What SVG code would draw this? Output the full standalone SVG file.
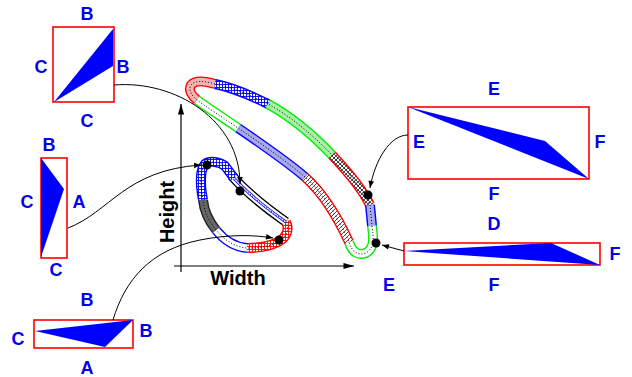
<svg xmlns="http://www.w3.org/2000/svg" width="632" height="377" viewBox="0 0 632 377">
  <style>
    .lbl { font-family: "Liberation Sans", Arial, sans-serif; font-weight: bold; font-size: 18px; fill: #0000ee; text-anchor: middle; }
    .axlbl { font-family: "Liberation Sans", Arial, sans-serif; font-weight: bold; font-size: 20px; fill: #000; text-anchor: middle; }
    .box { fill: #fff; stroke: #ff0000; stroke-width: 1.6; }
    .tri { fill: #0000ff; stroke: none; }
    .conn { fill: none; stroke: #000; stroke-width: 1; }
    .dot { fill: #000; }
    .out { fill: none; stroke-width: 10; stroke-linejoin: round; stroke-linecap: butt; }
    .in { fill: none; stroke-width: 7.2; stroke-linejoin: round; stroke-linecap: butt; }
    .mid { fill: none; stroke: #000; stroke-width: 1; stroke-dasharray: 1 2; }
  </style>
  <defs>
    <marker id="arr" viewBox="0 0 10 10" refX="10" refY="5" markerWidth="9" markerHeight="7" markerUnits="userSpaceOnUse" orient="auto">
      <path d="M0,1 L10,5 L0,9 Z" fill="#000"/>
    </marker>
    <marker id="axarr" viewBox="0 0 12 8" refX="12" refY="4" markerWidth="12" markerHeight="7" markerUnits="userSpaceOnUse" orient="auto">
      <path d="M0,0.5 L12,4 L0,7.5 Z" fill="#000"/>
    </marker>
    <pattern id="bgrid" width="3" height="3" patternUnits="userSpaceOnUse">
      <rect width="3" height="3" fill="#fff"/>
      <path d="M0,0.5 H3 M0.5,0 V3" stroke="#0000ff" stroke-width="0.9"/>
    </pattern>
    <pattern id="rgrid" width="3" height="3" patternUnits="userSpaceOnUse">
      <rect width="3" height="3" fill="#fff"/>
      <path d="M0,0.5 H3 M0.5,0 V3" stroke="#ff0000" stroke-width="0.9"/>
    </pattern>
    <pattern id="kx" width="4" height="4" patternUnits="userSpaceOnUse">
      <rect width="4" height="4" fill="#fff"/>
      <path d="M0,0 L4,4 M4,0 L0,4" stroke="#000" stroke-width="0.7"/>
    </pattern>
    <pattern id="kdiag" width="4" height="4" patternUnits="userSpaceOnUse">
      <rect width="4" height="4" fill="#fff"/>
      <path d="M-1,1 L1,-1 M0,4 L4,0 M3,5 L5,3" stroke="#000" stroke-width="0.7"/>
    </pattern>
  </defs>

  <rect width="632" height="377" fill="#fff"/>

  <!-- axes -->
  <g id="axes">
    <line x1="181" y1="272" x2="181" y2="104" stroke="#000" stroke-width="1.2" marker-end="url(#axarr)"/>
    <line x1="174" y1="266" x2="354" y2="266" stroke="#000" stroke-width="1.2" marker-end="url(#axarr)"/>
    <text class="axlbl" transform="translate(174,212) rotate(-90)">Height</text>
    <text class="axlbl" x="238" y="285">Width</text>
  </g>

  <!-- large loop: tube drawn as outline, fill and dotted centre line per segment -->
  <g id="loop-large">
    <path class="out" stroke="#ff0000" d="M215,84 C205,81 195,80 191,85 C188,90 192,96 197,100"/>
    <path class="in" stroke="#f4b4b4" d="M215,84 C205,81 195,80 191,85 C188,90 192,96 197,100"/>
    <path class="out" stroke="#0000ff" d="M215,84 C235,88 252,96 268,104"/>
    <path class="in" stroke="url(#bgrid)" d="M215,84 C235,88 252,96 268,104"/>
    <path class="out" stroke="#00ee00" d="M268,104 C290,116 312,134 332,155"/>
    <path class="in" stroke="#a8f0a8" d="M268,104 C290,116 312,134 332,155"/>
    <path class="out" stroke="#ff0000" d="M332,155 C348,172 362,188 370,205"/>
    <path class="in" stroke="url(#kx)" d="M332,155 C348,172 362,188 370,205"/>
    <path class="out" stroke="#0000ff" d="M370,205 L372,226"/>
    <path class="in" stroke="#a8a8ec" d="M370,205 L372,226"/>
    <path class="out" stroke="#00ee00" d="M372,226 C374,240 374,248 366,253 C358,256 352,252 349,242"/>
    <path class="in" stroke="#fff" d="M372,226 C374,240 374,248 366,253 C358,256 352,252 349,242"/>
    <path class="out" stroke="#ff0000" d="M349,242 C338,218 325,195 305,177"/>
    <path class="in" stroke="url(#kdiag)" d="M349,242 C338,218 325,195 305,177"/>
    <path class="out" stroke="#0000ff" d="M305,177 C285,160 260,143 238,128"/>
    <path class="in" stroke="#a8a8ec" d="M305,177 C285,160 260,143 238,128"/>
    <path class="out" stroke="#00ee00" d="M238,128 C222,117 205,106 197,100"/>
    <path class="in" stroke="#fff" d="M238,128 C222,117 205,106 197,100"/>
    <path class="mid" d="M215,84 C205,81 195,80 191,85 C188,90 192,96 197,100 C205,106 222,117 238,128 C260,143 285,160 305,177 C325,195 338,218 349,242 C352,252 358,256 366,253 C374,248 374,240 372,226 L370,205 C362,188 348,172 332,155 C312,134 290,116 268,104 C252,96 235,88 215,84"/>
  </g>

  <!-- small loop -->
  <g id="loop-small">
    <path class="out" stroke="#000" d="M232,176 C248,194 266,208 286,222"/>
    <path class="in" stroke="#fff" d="M232,176 C248,194 266,208 286,222"/>
    <path fill="none" stroke="#0000ff" stroke-width="3" d="M232,176 C248,194 266,208 286,222"/>
    <path fill="none" stroke="#fff" stroke-width="1.4" d="M232,176 C248,194 266,208 286,222"/>
    <path class="out" stroke="#0000ff" d="M203,200 C200,185 200,170 205,164 C210,160 220,162 225,166 L234,178"/>
    <path class="in" stroke="url(#bgrid)" d="M203,200 C200,185 200,170 205,164 C210,160 220,162 225,166 L234,178"/>
    <path class="out" stroke="#ff0000" d="M286,222 C290,230 286,238 278,242 C268,247 258,248 247,248"/>
    <path class="in" stroke="url(#rgrid)" d="M286,222 C290,230 286,238 278,242 C268,247 258,248 247,248"/>
    <path class="out" stroke="#0000ff" d="M247,248 C235,247 224,240 216,230"/>
    <path class="in" stroke="#fff" d="M247,248 C235,247 224,240 216,230"/>
    <path class="out" stroke="#222" d="M216,230 C208,220 204,210 203,200"/>
    <path class="in" stroke="#666" d="M216,230 C208,220 204,210 203,200"/>
    <path class="mid" d="M203,200 C200,185 200,170 205,164 C210,160 220,162 225,166 L234,178 C248,194 266,208 286,222 C290,230 286,238 278,242 C268,247 258,248 247,248 C235,247 224,240 216,230 C208,220 204,210 203,200"/>
  </g>

  <!-- box BCBC -->
  <g id="box-bcbc">
    <rect class="box" x="53" y="27" width="61" height="75"/>
    <polygon class="tri" points="54,102 113,29 113,66"/>
    <text class="lbl" x="87" y="20">B</text>
    <text class="lbl" x="41" y="73">C</text>
    <text class="lbl" x="123" y="73">B</text>
    <text class="lbl" x="87" y="127">C</text>
  </g>

  <!-- box BCAC -->
  <g id="box-bcac">
    <rect class="box" x="41" y="158" width="26" height="100"/>
    <polygon class="tri" points="41,158 64,189 41,257"/>
    <text class="lbl" x="49" y="151">B</text>
    <text class="lbl" x="27" y="208">C</text>
    <text class="lbl" x="79" y="208">A</text>
    <text class="lbl" x="56" y="276">C</text>
  </g>

  <!-- box BCBA -->
  <g id="box-bcba">
    <rect class="box" x="34" y="320" width="99" height="28"/>
    <polygon class="tri" points="35,331 133,320 105,347"/>
    <text class="lbl" x="87" y="306">B</text>
    <text class="lbl" x="18" y="345">C</text>
    <text class="lbl" x="146" y="337">B</text>
    <text class="lbl" x="87" y="374">A</text>
  </g>

  <!-- box EEFF -->
  <g id="box-eeff">
    <rect class="box" x="408" y="107" width="181" height="72"/>
    <polygon class="tri" points="408,107 545,141 589,179"/>
    <text class="lbl" x="494" y="95">E</text>
    <text class="lbl" x="419" y="148">E</text>
    <text class="lbl" x="600" y="148">F</text>
    <text class="lbl" x="494" y="200">F</text>
  </g>

  <!-- box DFEF -->
  <g id="box-dfef">
    <rect class="box" x="404" y="243" width="196" height="22"/>
    <polygon class="tri" points="404,251 551,243 600,265"/>
    <text class="lbl" x="494" y="230">D</text>
    <text class="lbl" x="615" y="260">F</text>
    <text class="lbl" x="389" y="291">E</text>
    <text class="lbl" x="494" y="291">F</text>
  </g>

  <!-- connectors -->
  <g id="connectors">
    <path class="conn" d="M114,85 C175,80 240,120 240,184" marker-end="url(#arr)"/>
    <path class="conn" d="M68,228 C110,212 125,170 201,165" marker-end="url(#arr)"/>
    <path class="conn" d="M113,320 C125,280 150,250 200,240 C230,234 255,235 273,238" marker-end="url(#arr)"/>
    <path class="conn" d="M408,135 C390,135 375,160 370,188" marker-end="url(#arr)"/>
    <path class="conn" d="M404,251 L382,245" marker-end="url(#arr)"/>
  </g>

  <!-- contact points -->
  <g id="points">
    <circle class="dot" cx="207" cy="165" r="4.5"/>
    <circle class="dot" cx="240" cy="191" r="4.5"/>
    <circle class="dot" cx="279" cy="240" r="4.5"/>
    <circle class="dot" cx="368" cy="195" r="4.5"/>
    <circle class="dot" cx="376" cy="243" r="4.5"/>
  </g>
</svg>
